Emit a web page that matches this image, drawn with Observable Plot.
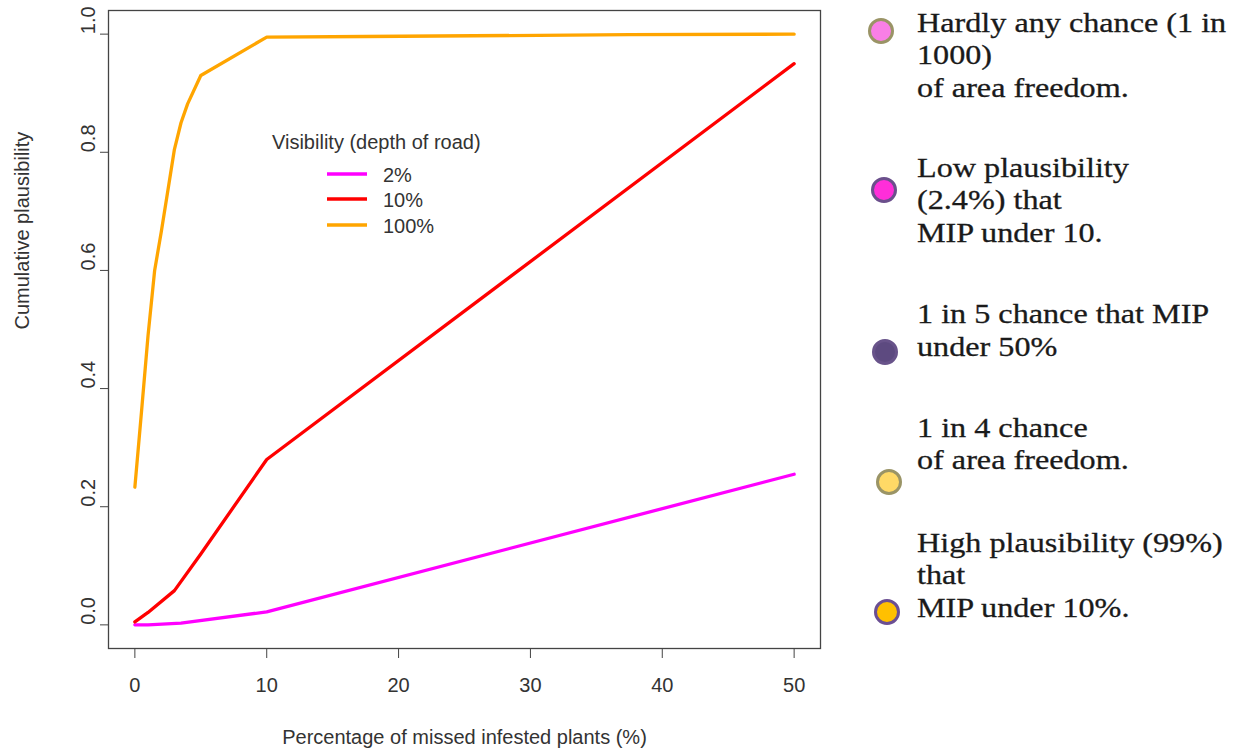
<!DOCTYPE html>
<html><head><meta charset="utf-8">
<script src="https://cdn.jsdelivr.net/npm/d3@7"></script>
<script src="https://cdn.jsdelivr.net/npm/@observablehq/plot@0.6"></script>
<style>
body{margin:0;background:#fff;}
#wrap{position:relative;width:1246px;height:749px;overflow:hidden;background:#fff;}
#wrap svg{position:absolute;left:0;top:0;}
</style></head><body><div id="wrap"></div>
<script>
// ---- data ----
const xPct2 = [0, 1, 3.5, 10, 50];
const vis2 = [0, 0, 0.003, 0.022, 0.255];
const xPct10 = [0, 1, 3, 5, 10, 50];
const vis10 = [0.005, 0.021, 0.058, 0.12, 0.28, 0.95];
const xPct100 = [0, 0.5, 1, 1.5, 2, 2.5, 3, 3.5, 4, 5, 10, 17.5, 37.5, 50];
const vis100 = [0.233, 0.36, 0.49, 0.60, 0.665, 0.735, 0.805, 0.85, 0.882, 0.93, 0.995, 0.996, 0.999, 1.0];
const seriesNames = ["2%", "10%", "100%"];
const seriesColors = ["#ff00ff", "#ff0000", "#ffa500"];
const xTicks = [0, 10, 20, 30, 40, 50];
const yTicks = [0, 0.2, 0.4, 0.6, 0.8, 1.0];
const legendTitle = "Visibility (depth of road)";
const xLabel = "Percentage of missed infested plants (%)";
const yLabel = "Cumulative plausibility";

const noteLines = [
  ["Hardly any chance (1 in", "1000)", "of area freedom."],
  ["Low plausibility", "(2.4%) that", "MIP under 10."],
  ["1 in 5 chance that MIP", "under 50%"],
  ["1 in 4 chance", "of area freedom."],
  ["High plausibility (99%)", "that", "MIP under 10%."]
];
const noteFill = ["#f97fe6", "#ff2ed9", "#5d4a80", "#ffd966", "#ffc000"];
const noteStroke = ["#9a9466", "#6b4f8c", "#68538a", "#9a9466", "#6b4f93"];

// ---- build table ----
const rows = [];
[[xPct2, vis2], [xPct10, vis10], [xPct100, vis100]].forEach(([xs, ys], i) => {
  xs.forEach((x, j) => rows.push({series: seriesNames[i], x, y: ys[j]}));
});

const font = "'Liberation Sans', Arial, sans-serif";
const fs = 20;
const chart = Plot.plot({
  width: 1246, height: 749,
  marginLeft: 108, marginRight: 426, marginTop: 10, marginBottom: 101,
  style: {fontFamily: font, fontSize: fs + "px", color: "#333", background: "transparent"},
  x: {domain: [-2, 52]},
  y: {domain: [-0.04, 1.04]},
  color: {domain: seriesNames, range: seriesColors},
  marks: [
    Plot.frame({stroke: "#444", strokeWidth: 1.3}),
    Plot.axisX({ticks: xTicks, tickSize: 10, tickPadding: 19, label: null, stroke: "#444", fill: "#333", fontSize: fs, tickFormat: d => d}),
    Plot.axisY({ticks: yTicks, tickSize: 8, tickFormat: () => "", label: null, stroke: "#444"}),
    Plot.text(yTicks, {y: d => d, text: d => d.toFixed(1), frameAnchor: "left", dx: -20, rotate: -90, fill: "#333", fontSize: fs}),
    Plot.text([xLabel], {frameAnchor: "bottom", dy: 95, text: d => d, fill: "#333", fontSize: fs}),
    Plot.text([yLabel], {frameAnchor: "left", dx: -86, rotate: -90, text: d => d, fill: "#333", fontSize: fs}),
    Plot.line(rows, {x: "x", y: "y", z: "series", stroke: "series", strokeWidth: 3.3, strokeLinejoin: "round"})
  ]
});
const wrap = document.getElementById("wrap");
wrap.appendChild(chart);

// ---- overlay: in-plot legend and right-hand notes ----
const svg = d3.select(wrap).append("svg").attr("width", 1246).attr("height", 749);
svg.append("text").attr("x", 272).attr("y", 149).attr("font-family", font)
  .attr("font-size", fs).attr("fill", "#333").text(legendTitle);
const legY = [174, 199, 225];
seriesNames.forEach((s, i) => {
  svg.append("line").attr("x1", 327).attr("x2", 367).attr("y1", legY[i]).attr("y2", legY[i])
    .attr("stroke", seriesColors[i]).attr("stroke-width", 3.3);
  svg.append("text").attr("x", 383).attr("y", legY[i] + 1).attr("dy", "0.35em").attr("font-family", font)
    .attr("font-size", fs).attr("fill", "#333").text(s);
});

const noteBase = [31.7, 176.7, 323.3, 436.7, 551.7];
const circ = [[881, 31], [884, 190], [885, 352], [889, 482], [887, 612]];
const serif = "'Liberation Serif', 'Times New Roman', serif";
noteLines.forEach((lines, i) => {
  svg.append("circle").attr("cx", circ[i][0]).attr("cy", circ[i][1]).attr("r", 11.5)
    .attr("fill", noteFill[i]).attr("stroke", noteStroke[i]).attr("stroke-width", 3);
  const g = svg.append("g").attr("transform", "translate(917,0) scale(1.15,1)");
  lines.forEach((t, k) => {
    g.append("text").attr("x", 0).attr("y", noteBase[i] + k * 32.6).attr("font-family", serif)
      .attr("font-size", 28).attr("fill", "#1a1a1a").attr("stroke", "#1a1a1a").attr("stroke-width", 0.3).text(t);
  });
});
</script></body></html>
